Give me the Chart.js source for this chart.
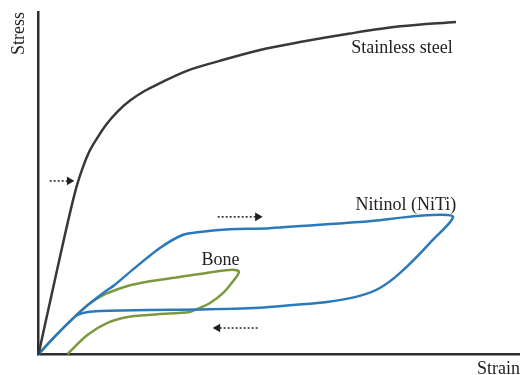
<!DOCTYPE html>
<html>
<head>
<meta charset="utf-8">
<script src="https://cdn.jsdelivr.net/npm/chart.js@4/dist/chart.umd.min.js"></script>
<style>
  html, body { margin: 0; padding: 0; background: #fff; }
  #chart { display: block; }
</style>
</head>
<body>
<canvas id="chart" width="520" height="375"></canvas>
<script>
// strain / stress in arbitrary units (axes have no ticks)
const steelStrain = [0, 3.7, 7.7, 8.9, 10.3, 12.1, 14.1, 16.4, 19.0, 22.0, 25.2, 30.8, 37.6, 46.0, 54.3, 64.7, 75.1, 86.7];
const steelStress = [0, 23.7, 48.0, 53.4, 58.5, 63.0, 67.2, 70.9, 74.1, 76.9, 79.2, 82.8, 85.7, 88.9, 91.2, 93.7, 95.8, 97.1];

// loading then unloading, back to origin
const nitiStrain = [0, 3.3, 6.4, 10.2, 13.7, 15.8, 19.5, 25.2, 29.9, 33.5, 39.7, 48.0, 66.7, 85.9,
                    81.3, 75.1, 70.9, 66.7, 59.9, 52.8, 45.9, 33.5, 23.1, 12.7, 10.2, 8.1, 6.4, 3.3, 0];
const nitiStress = [0, 5.0, 9.4, 14.3, 18.1, 20.2, 24.6, 31.0, 34.8, 35.7, 36.5, 36.8, 38.6, 40.4,
                    32.5, 23.7, 19.3, 17.0, 15.2, 14.3, 13.5, 13.0, 12.9, 12.6, 12.3, 11.4, 9.4, 5.0, 0];

const boneStrain = [0, 3.3, 6.4, 10.2, 13.7, 18.5, 23.1, 29.3, 36.2, 40.3, 41.6,
                    40.3, 38.3, 35.6, 33.5, 31.4, 28.9, 22.7, 18.5, 14.3, 10.2, 6.0];
const boneStress = [0, 5.0, 9.4, 14.3, 17.4, 19.9, 21.3, 22.5, 24.0, 24.6, 24.0,
                    21.1, 17.8, 14.9, 13.5, 12.3, 12.0, 11.4, 10.8, 9.1, 5.6, 0];

// dotted direction arrows: [x0, y0, x1, y1], head at the second point
const arrows = [
  [2.3, 50.6, 6.4, 50.6],
  [37.2, 40.1, 45.5, 40.1],
  [45.5, 7.6, 37.2, 7.6]
];

const labelText = ['Stainless steel', 'Nitinol (NiTi)', 'Bone'];
const labelX = [75.5, 76.3, 37.8];
const labelY = [89.5, 43.6, 27.5];

const serif = '"Liberation Serif", "Times New Roman", serif';

function pts(xs, ys) {
  return xs.map((x, i) => ({ x: x, y: ys[i] }));
}

function curve(label, xs, ys, color, tension) {
  return {
    label: label,
    data: pts(xs, ys),
    showLine: true,
    borderColor: color,
    borderWidth: 2.5,
    pointRadius: 0,
    tension: tension,
    fill: false,
    clip: false
  };
}

const steel = curve('Stainless steel', steelStrain, steelStress, '#383838', 0.4);
steel.cubicInterpolationMode = 'monotone';

const datasets = [
  steel,
  curve('Nitinol (NiTi)', nitiStrain, nitiStress, '#2a79bb', 0.28),
  curve('Bone', boneStrain, boneStress, '#7b9a3f', 0.32)
];

arrows.forEach(a => {
  const right = a[2] > a[0];
  datasets.push({
    label: 'arrow',
    data: [{ x: a[0], y: a[1] }, { x: a[2], y: a[3] }],
    showLine: true,
    borderColor: '#222',
    backgroundColor: '#222',
    borderWidth: 1.5,
    borderDash: [2, 2],
    pointStyle: 'triangle',
    pointRadius: [0, 3.5],
    pointRotation: right ? 90 : -90,
    clip: false
  });
});

const curveLabels = {
  id: 'curveLabels',
  afterDatasetsDraw(chart) {
    const ctx = chart.ctx;
    const xs = chart.scales.x, ys = chart.scales.y;
    ctx.save();
    ctx.font = '18px ' + serif;
    ctx.fillStyle = '#222';
    ctx.textAlign = 'center';
    ctx.textBaseline = 'middle';
    labelText.forEach((t, i) => {
      ctx.fillText(t, xs.getPixelForValue(labelX[i]), ys.getPixelForValue(labelY[i]));
    });
    ctx.restore();
  }
};

new Chart(document.getElementById('chart').getContext('2d'), {
  type: 'scatter',
  data: { datasets: datasets },
  options: {
    responsive: false,
    animation: false,
    layout: { autoPadding: false, padding: { left: 8, top: 12, right: 0, bottom: 0 } },
    plugins: {
      legend: { display: false },
      tooltip: { enabled: false }
    },
    scales: {
      x: {
        type: 'linear',
        min: 0,
        max: 100,
        ticks: { display: false },
        grid: { display: false, drawTicks: false },
        border: { display: true, color: '#2e2e2e', width: 2.5 },
        title: {
          display: true,
          text: 'Strain',
          align: 'end',
          color: '#222',
          font: { family: serif, size: 18 },
          padding: { top: 4.4, bottom: -5 }
        }
      },
      y: {
        type: 'linear',
        min: 0,
        max: 100,
        ticks: { display: false },
        grid: { display: false, drawTicks: false },
        border: { display: true, color: '#2e2e2e', width: 2.5 },
        title: {
          display: true,
          text: 'Stress',
          align: 'end',
          color: '#222',
          font: { family: serif, size: 18 },
          padding: { top: 0, bottom: 9 }
        }
      }
    }
  },
  plugins: [curveLabels]
});
</script>
</body>
</html>
